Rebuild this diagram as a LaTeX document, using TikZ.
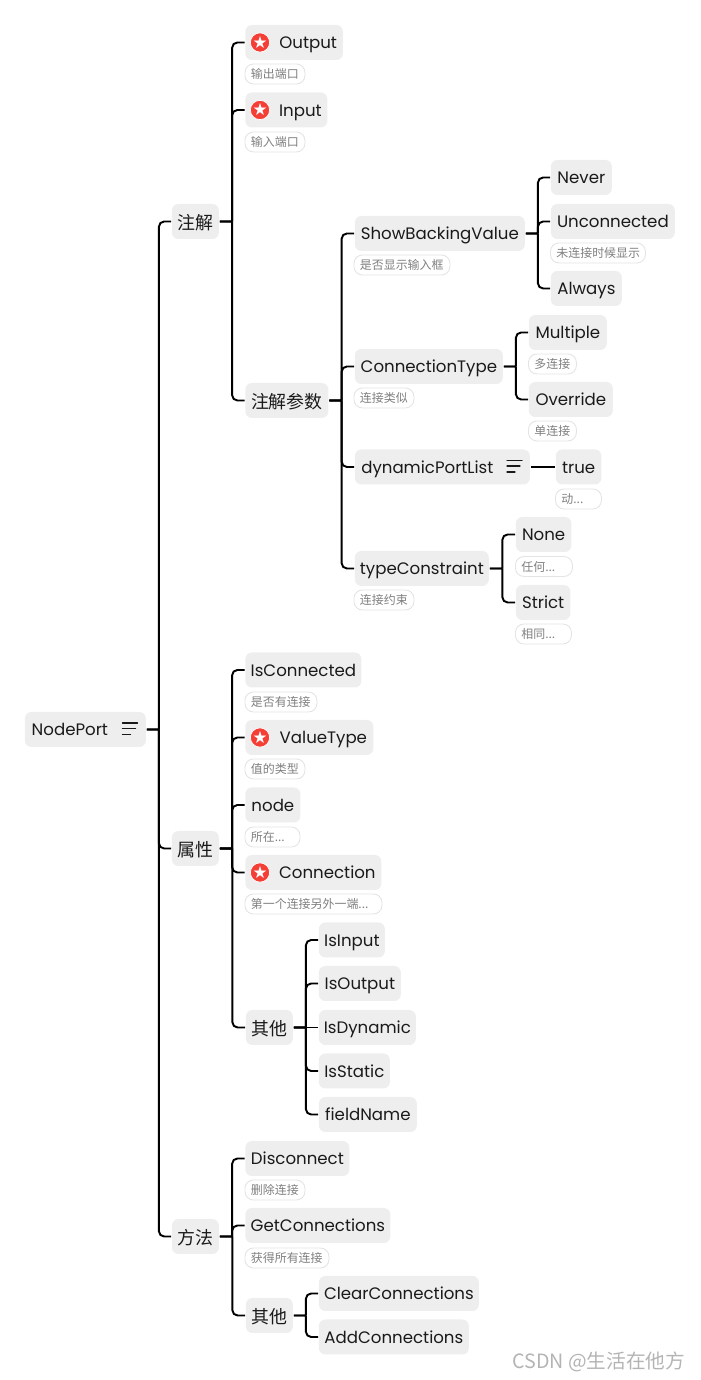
\documentclass[tikz,border=0pt]{standalone}
\usepackage{fontspec}
\usepackage{tikz}
\usetikzlibrary{calc}
\setmainfont{Poppins}
\newfontfamily\cjk{Noto Sans CJK SC}
\newfontfamily\symfont{DejaVu Sans}
\newcommand{\zh}[1]{\raisebox{-.6pt}{\cjk\fontsize{10.2pt}{11pt}\selectfont #1}}
\definecolor{boxgray}{HTML}{EEEEEE}
\definecolor{notegray}{HTML}{E4E4E4}
\definecolor{notetext}{HTML}{808080}
\definecolor{inkblack}{HTML}{1A1A1A}
\definecolor{badgered}{HTML}{F43F36}
\definecolor{markgray}{HTML}{B4B4B4}
\tikzset{
  topic/.style={anchor=west, fill=boxgray, text=inkblack, rounded corners=.13cm, inner xsep=0, inner ysep=0,
    minimum width=#1 cm, minimum height=.7cm, text height=.33cm, text depth=.07cm, outer sep=.5pt, font=\fontsize{9.45pt}{11pt}\selectfont},
  subnote/.style={anchor=west, draw=notegray, fill=white, text=notetext, line width=.5pt, rounded corners=.17cm, inner xsep=.12cm, inner ysep=0,
    text width=#1 cm-.24cm, minimum height=.4cm, text height=.23cm, text depth=.04cm, align=left, font=\cjk\fontsize{6.8pt}{7pt}\selectfont},
  badge/.style={circle, fill=badgered, draw=white, line width=.4pt, text=white, inner sep=0, minimum size=.38cm, font=\symfont\fontsize{9.5pt}{9.5pt}\selectfont},
  linkline/.style={draw=black, line width=1.1pt},
  link/.style={linkline, rounded corners=3pt,
    to path={(\tikztostart.east) -- ($(\tikztostart.east)!.5!(\tikztostart.east -| \tikztotarget.west)$)
      ($(\tikztostart.east)!.5!(\tikztostart.east -| \tikztotarget.west)$) |- (\tikztotarget.west)}},
  listline/.style={draw=inkblack, line width=.6pt, line cap=round},
}
\begin{document}
\begin{tikzpicture}
\useasboundingbox (0.02, 0) rectangle (14.02, 27.6);
\node[topic=2.42] (root) at (0.5, 13.01) {NodePort\hspace*{.62cm}}; % root
\draw[listline] (2.47, 13.14) -- (2.77, 13.14); % root list icon
\draw[listline] (2.47, 13.03) -- (2.73, 13.03); % root list icon
\draw[listline] (2.47, 12.91) -- (2.63, 12.91); % root list icon
\node[topic=0.94] (annot) at (3.44, 23.17) {\zh{注解}}; % section
\node[topic=0.94] (props) at (3.44, 10.63) {\zh{属性}}; % section
\node[topic=0.94] (methods) at (3.44, 2.87) {\zh{方法}}; % section
\node[topic=1.95] (output) at (4.91, 26.75) {\hspace*{.56cm}Output}; % annot.0
\node[badge] (outputstar) at (5.22, 26.75) {★}; % annot.0
\node[subnote=1.2] (outputnote) at (4.91, 26.12) {输出端口}; % annot.0
\node[topic=1.64] (input) at (4.91, 25.4) {\hspace*{.56cm}Input}; % annot.1
\node[badge] (inputstar) at (5.22, 25.4) {★}; % annot.1
\node[subnote=1.2] (inputnote) at (4.91, 24.76) {输入端口}; % annot.1
\node[topic=1.66] (params) at (4.91, 19.59) {\zh{注解参数}}; % annot.2
\node[topic=3.4] (backing) at (7.1, 22.93) {ShowBackingValue}; % params.0
\node[subnote=1.92] (backingnote) at (7.09, 22.3) {是否显示输入框}; % params.0
\node[topic=1.22] (never) at (11.02, 24.05) {Never}; % backing.0
\node[topic=2.48] (unconn) at (11.02, 23.17) {Unconnected}; % backing.1
\node[subnote=1.9] (unconnnote) at (11.02, 22.54) {未连接时候显示}; % backing.1
\node[topic=1.42] (always) at (11.02, 21.83) {Always}; % backing.2
\node[topic=2.96] (conntype) at (7.1, 20.27) {ConnectionType}; % params.1
\node[subnote=1.2] (conntypenote) at (7.09, 19.64) {连接类似}; % params.1
\node[topic=1.56] (multiple) at (10.58, 20.95) {Multiple}; % conntype.0
\node[subnote=0.96] (multiplenote) at (10.58, 20.32) {多连接}; % conntype.0
\node[topic=1.68] (override) at (10.58, 19.61) {Override}; % conntype.1
\node[subnote=0.96] (overridenote) at (10.58, 18.98) {单连接}; % conntype.1
\node[topic=3.5] (dynlist) at (7.1, 18.26) {dynamicPortList\hspace*{.6cm}}; % params.2
\draw[listline] (10.16, 18.39) -- (10.46, 18.39); % dynlist list icon
\draw[listline] (10.16, 18.28) -- (10.42, 18.28); % dynlist list icon
\draw[listline] (10.16, 18.16) -- (10.32, 18.16); % dynlist list icon
\node[topic=0.91] (true) at (11.12, 18.26) {true}; % dynlist.0
\node[subnote=0.92] (truenote) at (11.12, 17.62) {动...}; % dynlist.0
\node[topic=2.68] (constraint) at (7.1, 16.23) {typeConstraint}; % params.3
\node[subnote=1.2] (constraintnote) at (7.09, 15.6) {连接约束}; % params.3
\node[topic=1.11] (none) at (10.32, 16.91) {None}; % constraint.0
\node[subnote=1.14] (nonenote) at (10.32, 16.27) {任何...}; % constraint.0
\node[topic=1.09] (strict) at (10.32, 15.55) {Strict}; % constraint.1
\node[subnote=1.12] (strictnote) at (10.32, 14.92) {相同...}; % constraint.1
\node[topic=2.32] (isconn) at (4.91, 14.2) {IsConnected}; % props.0
\node[subnote=1.44] (isconnnote) at (4.91, 13.56) {是否有连接}; % props.0
\node[topic=2.56] (valtype) at (4.91, 12.85) {\hspace*{.56cm}ValueType}; % props.1
\node[badge] (valtypestar) at (5.22, 12.85) {★}; % props.1
\node[subnote=1.2] (valtypenote) at (4.91, 12.22) {值的类型}; % props.1
\node[topic=1.1] (nodeprop) at (4.91, 11.5) {node}; % props.2
\node[subnote=1.1] (nodepropnote) at (4.91, 10.86) {所在...}; % props.2
\node[topic=2.72] (connection) at (4.91, 10.15) {\hspace*{.56cm}Connection}; % props.3
\node[badge] (connectionstar) at (5.22, 10.15) {★}; % props.3
\node[subnote=2.74] (connectionnote) at (4.91, 9.52) {第一个连接另外一端...}; % props.3
\node[topic=0.94] (others) at (4.92, 7.05) {\zh{其他}}; % props.4
\node[topic=1.32] (isinput) at (6.38, 8.8) {IsInput}; % others.0
\node[topic=1.64] (isoutput) at (6.38, 7.93) {IsOutput}; % others.1
\node[topic=1.94] (isdyn) at (6.38, 7.05) {IsDynamic}; % others.2
\node[topic=1.42] (isstatic) at (6.38, 6.18) {IsStatic}; % others.3
\node[topic=1.96] (fieldname) at (6.38, 5.31) {fieldName}; % others.4
\node[topic=2.08] (disconnect) at (4.91, 4.43) {Disconnect}; % methods.0
\node[subnote=1.2] (disconnectnote) at (4.91, 3.8) {删除连接}; % methods.0
\node[topic=2.9] (getconn) at (4.91, 3.09) {GetConnections}; % methods.1
\node[subnote=1.68] (getconnnote) at (4.91, 2.44) {获得所有连接}; % methods.1
\node[topic=0.94] (moremethods) at (4.92, 1.29) {\zh{其他}}; % methods.2
\node[topic=3.2] (clearconn) at (6.38, 1.73) {ClearConnections}; % moremethods.0
\node[topic=3] (addconn) at (6.38, 0.86) {AddConnections}; % moremethods.1
\node[anchor=west, inner sep=0, text=markgray, font=\cjk\fontsize{11.2pt}{12pt}\selectfont] (mark) at (10.26, 0.36) {CSDN @生活在他方}; % watermark

\draw[link] (root) to (annot); % root.0
\draw[link] (root) to (props); % root.1
\draw[link] (root) to (methods); % root.2
\draw[link] (annot) to (output); % annot.0
\draw[link] (annot) to (input); % annot.1
\draw[link] (annot) to (params); % annot.2
\draw[link] (params) to (backing); % params.0
\draw[link] (params) to (conntype); % params.1
\draw[link] (params) to (dynlist); % params.2
\draw[link] (params) to (constraint); % params.3
\draw[link] (backing) to (never); % backing.0
\draw[link] (backing) to (unconn); % backing.1
\draw[link] (backing) to (always); % backing.2
\draw[link] (conntype) to (multiple); % conntype.0
\draw[link] (conntype) to (override); % conntype.1
\draw[linkline] (dynlist) -- (true); % dynlist.0
\draw[link] (constraint) to (none); % constraint.0
\draw[link] (constraint) to (strict); % constraint.1
\draw[link] (props) to (isconn); % props.0
\draw[link] (props) to (valtype); % props.1
\draw[link] (props) to (nodeprop); % props.2
\draw[link] (props) to (connection); % props.3
\draw[link] (props) to (others); % props.4
\draw[link] (others) to (isinput); % others.0
\draw[link] (others) to (isoutput); % others.1
\draw[linkline] (others) -- (isdyn); % others.2
\draw[link] (others) to (isstatic); % others.3
\draw[link] (others) to (fieldname); % others.4
\draw[link] (methods) to (disconnect); % methods.0
\draw[link] (methods) to (getconn); % methods.1
\draw[link] (methods) to (moremethods); % methods.2
\draw[link] (moremethods) to (clearconn); % moremethods.0
\draw[link] (moremethods) to (addconn); % moremethods.1
\end{tikzpicture}
\end{document}
